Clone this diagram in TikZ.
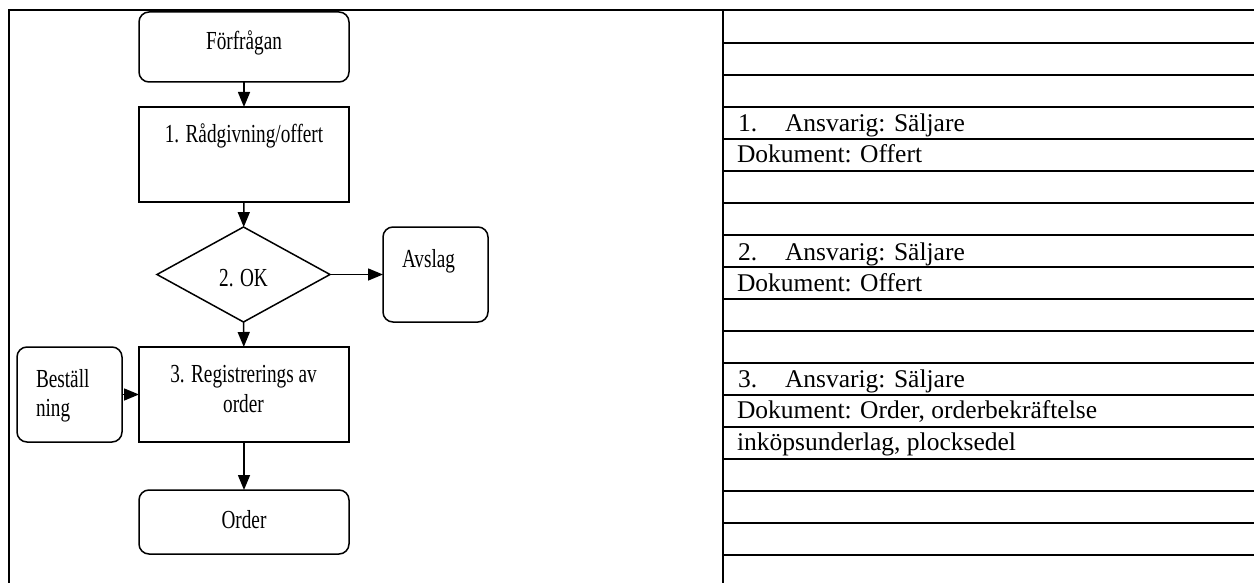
\documentclass[tikz,border=0pt]{standalone}
\usepackage{fontspec}
\usepackage{graphicx}
\setmainfont{Liberation Serif}
\usetikzlibrary{shapes.geometric,arrows.meta}

\begin{document}
\begin{tikzpicture}[x=1pt,y=-1pt,
  every node/.style={inner sep=0pt,outer sep=0pt},
  shapeline/.style={draw,line width=1.5pt},
  rbox/.style={shapeline,rectangle,rounded corners=10pt},
  pbox/.style={shapeline,rectangle},
  dbox/.style={shapeline,diamond},
  ftext/.style={font=\fontsize{26}{30}\selectfont},
  ttext/.style={font=\fontsize{25.5}{30}\selectfont,anchor=base west},
  flow/.style={line width=1.5pt,-{Triangle[length=15pt,width=12pt]}},
  rule/.style={line width=2pt},
]
\newcommand{\sq}[1]{\scalebox{0.74}[1]{#1}}
\useasboundingbox (0,0) rectangle (1254,583);

% outer frame and column divider
\draw[rule] (8.5,583) -- (8.5,10) -- (1254,10);
\draw[rule] (723,10) -- (723,583);
% ruled lines of the notes column
\foreach \k in {0,...,16}
  \draw[rule] (723,43+32*\k) -- (1254,43+32*\k);

% flowchart shapes
\node[rbox,minimum width=210pt,minimum height=70pt] (forf) at (244,47) {};
\node[pbox,minimum width=210pt,minimum height=95pt] (radg) at (244,154.5) {};
\node[dbox,minimum width=173pt,minimum height=95pt] (ok) at (243.5,274.5) {};
\node[rbox,minimum width=105pt,minimum height=95pt] (avsl) at (435.5,274.5) {};
\node[pbox,minimum width=210pt,minimum height=95pt] (reg) at (244,394.5) {};
\node[rbox,minimum width=105pt,minimum height=95pt] (best) at (69.5,394.5) {};
\node[rbox,minimum width=210pt,minimum height=64pt] (ord) at (244,522) {};

% flowchart labels
\node[ftext,anchor=base] (tforf) at (244,50) {\sq{Förfrågan}};
\node[ftext,anchor=base] (tradg) at (244,143) {\sq{1. Rådgivning/offert}};
\node[ftext,anchor=base] (tok) at (243.5,286) {\sq{2. OK}};
\node[ftext,anchor=base west] (tavsl) at (402,267) {\sq{Avslag}};
\node[ftext,anchor=base] (treg1) at (243.5,382) {\sq{3. Registrerings av}};
\node[ftext,anchor=base] (treg2) at (243.5,412) {\sq{order}};
\node[ftext,anchor=base west] (tbest1) at (36,387) {\sq{Beställ}};
\node[ftext,anchor=base west] (tbest2) at (36,416) {\sq{ning}};
\node[ftext,anchor=base] (tord) at (244,528) {\sq{Order}};

% connectors
\draw[flow] (forf) -- (radg);
\draw[flow] (radg) -- (ok);
\draw[flow] (ok) -- (avsl);
\draw[flow] (ok) -- (reg);
\draw[flow] (best) -- (reg);
\draw[flow] (reg) -- (ord);

% notes column
\node[ttext] (n1a) at (738,132) {\makebox[47pt][l]{1.}Ansvarig: Säljare};
\node[ttext] (n1b) at (737,163) {Dokument: Offert};
\node[ttext] (n2a) at (738,260) {\makebox[47pt][l]{2.}Ansvarig: Säljare};
\node[ttext] (n2b) at (737,291) {Dokument: Offert};
\node[ttext] (n3a) at (738,387) {\makebox[47pt][l]{3.}Ansvarig: Säljare};
\node[ttext] (n3b) at (737,418) {Dokument: Order, orderbekräftelse};
\node[ttext] (n3c) at (737,450) {inköpsunderlag, plocksedel};
\end{tikzpicture}
\end{document}
